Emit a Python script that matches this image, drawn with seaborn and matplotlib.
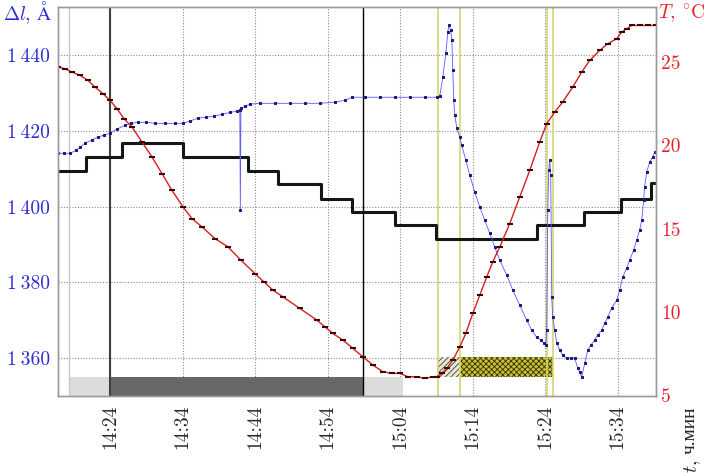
import numpy as np
import pandas as pd
import matplotlib
matplotlib.use("Agg")
import matplotlib.pyplot as plt
import seaborn as sns

# time in minutes after 14:00
blue_t = [16.83, 17.66, 18.49, 19.31, 19.87, 20.56, 21.52, 22.35, 23.17, 24.0, 24.96, 26.07,
          26.89, 27.86, 28.96, 30.2, 31.58, 32.96, 34.06, 35.02, 36.13, 37.23, 38.33, 39.43,
          40.54, 41.5, 41.9, 41.97, 42.05, 42.6, 43.3, 44.67, 46.74, 48.8, 50.87, 52.94, 55.0,
          56.38, 57.35, 59.14, 61.21, 63.27, 65.34, 67.41, 69.06, 69.47, 69.89, 70.3, 70.58,
          70.71, 70.99, 71.13, 71.27, 71.4, 71.54, 71.82, 72.23, 72.5, 73.06, 73.61, 74.3,
          74.99, 75.67, 76.36, 77.05, 77.74, 78.71, 79.53, 80.5, 81.46, 82.15, 82.84, 83.39,
          83.8, 84.08, 84.22, 84.36, 84.49, 84.63, 84.77, 84.91, 85.04, 85.32, 85.6, 86.01,
          86.42, 86.97, 87.53, 88.08, 88.49, 88.77, 89.04, 89.46, 89.87, 90.28, 90.83, 91.25,
          91.8, 92.21, 92.62, 93.17, 93.86, 94.28, 94.69, 95.24, 95.65, 96.2, 96.62, 97.03,
          97.31, 97.58, 97.72, 98.0, 98.41, 98.82, 99.1]
blue_dl = [1414.1, 1414.1, 1414.1, 1414.9, 1415.7, 1416.8, 1417.6, 1418.4, 1418.9, 1419.4,
           1420.5, 1421.5, 1422.0, 1422.3, 1422.3, 1422.0, 1422.0, 1422.0, 1422.0, 1422.6,
           1423.4, 1423.6, 1423.9, 1424.4, 1424.9, 1425.2, 1425.5, 1399.1, 1426.0, 1426.5,
           1427.1, 1427.3, 1427.3, 1427.3, 1427.3, 1427.3, 1427.6, 1428.1, 1428.9, 1428.9,
           1428.9, 1428.9, 1428.9, 1428.9, 1428.9, 1429.2, 1434.2, 1440.5, 1446.1, 1447.9,
           1446.6, 1444.0, 1436.0, 1428.1, 1424.2, 1420.7, 1418.4, 1416.2, 1412.3, 1408.3,
           1403.8, 1399.9, 1396.4, 1393.0, 1389.3, 1385.9, 1381.9, 1378.0, 1374.0, 1370.0,
           1367.4, 1365.5, 1364.8, 1364.0, 1363.4, 1367.4, 1399.1, 1409.6, 1412.3, 1408.3,
           1376.1, 1370.8, 1367.4, 1364.0, 1362.1, 1360.8, 1360.0, 1360.0, 1360.0, 1357.4,
           1356.3, 1355.0, 1358.7, 1362.1, 1363.4, 1364.8, 1366.1, 1367.4, 1369.2, 1370.8,
           1373.2, 1375.3, 1378.0, 1381.4, 1383.8, 1385.9, 1388.5, 1391.2, 1393.8, 1396.4,
           1401.7, 1405.2, 1409.1, 1411.8, 1413.1, 1414.4]

temp_t = [16.83, 17.8, 18.76, 19.87, 20.97, 21.93, 23.04, 24.0, 24.96, 25.93, 27.03, 28.41,
          29.79, 31.17, 32.54, 34.06, 35.3, 36.68, 38.47, 40.26, 42.05, 43.98, 45.22, 46.46,
          47.84, 50.18, 52.52, 53.63, 54.73, 56.11, 57.49, 58.86, 60.24, 61.62, 62.86, 63.96,
          65.06, 66.3, 67.41, 68.51, 69.06, 69.75, 70.44, 71.27, 72.23, 73.06, 74.02, 74.99,
          75.95, 76.78, 77.74, 79.12, 80.5, 81.88, 83.25, 84.22, 85.32, 86.42, 87.8, 89.04,
          90.14, 91.52, 92.62, 93.86, 94.55, 95.24, 95.93, 97.03, 98.14, 99.24]
temp_c = [24.7, 24.6, 24.4, 24.2, 23.9, 23.5, 23.1, 22.7, 22.2, 21.6, 21.1, 20.2, 19.3, 18.3,
          17.3, 16.3, 15.6, 15.1, 14.4, 13.9, 13.1, 12.3, 11.8, 11.3, 10.9, 10.2, 9.5, 9.1,
          8.7, 8.3, 7.8, 7.3, 6.8, 6.4, 6.3, 6.3, 6.1, 6.1, 6.0, 6.1, 6.1, 6.3, 6.6, 7.1, 7.9,
          8.7, 9.9, 11.0, 12.1, 13.0, 13.9, 15.3, 16.9, 18.5, 20.2, 21.3, 22.0, 22.6, 23.5,
          24.4, 25.1, 25.7, 26.1, 26.4, 26.8, 27.0, 27.2, 27.2, 27.2, 27.2]

step_t = [16.83, 20.69, 25.65, 34.06, 43.02, 47.15, 53.08, 57.35, 63.27, 68.92, 82.84,
          89.32, 94.41, 98.55, 99.24]
step_dl = [1409.4, 1413.1, 1416.8, 1413.1, 1409.4, 1406.0, 1402.0, 1398.5, 1395.1, 1391.4,
           1395.1, 1398.5, 1402.0, 1406.2, 1406.2]

# events (minutes after 14:00)
gray_light = [(18.35, 24.0), (58.86, 64.37)]
gray_dark = [(24.0, 58.86)]
black_marks = [24.0, 58.86]
yellow_marks = [69.2, 72.23, 84.22, 85.04]

x_ticks = [24, 34, 44, 54, 64, 74, 84, 94]
x_labels = ["14:24", "14:34", "14:44", "14:54", "15:04", "15:14", "15:24", "15:34"]
dl_ticks = [1360, 1380, 1400, 1420, 1440]
t_ticks = [5, 10, 15, 20, 25]

sns.set_style("white")
plt.rcParams['font.family'] = ['cmr10', 'DejaVu Serif']
plt.rcParams['mathtext.fontset'] = 'cm'
plt.rcParams['axes.unicode_minus'] = False
plt.rcParams['hatch.linewidth'] = 0.6

BLUE = '#2a2ad6'
RED = '#e8202a'

fig = plt.figure(figsize=(7.09, 4.76), dpi=100)
ax = fig.add_axes([0.0818, 0.168, 0.843, 0.817])
ax2 = ax.twinx()

ax.set_xlim(16.83, 99.24)
ax.set_ylim(1350.0, 1452.7)
ax2.set_ylim(4.94, 28.3)

ax.grid(True, color='#8a8a8a', linestyle=(0, (1, 1.5)), linewidth=0.8)
ax.set_axisbelow(True)

# phase bars along the bottom
for a, b in gray_light:
    ax.axvspan(a, b, 0, 0.049, color='#dcdcdc', lw=0)
for a, b in gray_dark:
    ax.axvspan(a, b, 0, 0.049, color='#686868', lw=0)
ax.axvspan(yellow_marks[0], yellow_marks[1], 0.049, 0.1, facecolor='#e8e8d0',
           edgecolor='#404040', hatch='//////', lw=0)
ax.axvspan(yellow_marks[1], yellow_marks[3], 0.049, 0.1, facecolor='#c8c030',
           edgecolor='#303010', hatch='xxxxxx', lw=0)

ax.axvline(gray_light[0][0], color='#c8c8c8', lw=1)
ax.axvline(black_marks[0], color='#404040', lw=1.5)
ax.axvline(black_marks[1], color='black', lw=1)
for xm in yellow_marks:
    ax.axvline(xm, color='#d6d670', lw=1.2)

steps = pd.DataFrame({'t': step_t, 'dl': step_dl})
sns.lineplot(data=steps, x='t', y='dl', ax=ax, drawstyle='steps-post', color='#101810',
             lw=2.2, estimator=None, sort=False)

blue = pd.DataFrame({'t': blue_t, 'dl': blue_dl})
sns.lineplot(data=blue, x='t', y='dl', ax=ax, color='#5a5aff', lw=0.6, marker='s',
             markersize=2.0, markerfacecolor='#1a1a78', markeredgecolor='#1a1a78',
             estimator=None, sort=False)

temp = pd.DataFrame({'t': temp_t, 'T': temp_c})
sns.lineplot(data=temp, x='t', y='T', ax=ax2, color='#d42020', lw=1.0, marker='_',
             markersize=4, markeredgewidth=1.5, markeredgecolor='#3a0808',
             estimator=None, sort=False)

ax.set_xticks(x_ticks, labels=x_labels, rotation=90, fontsize=14)
ax.set_yticks(dl_ticks, labels=[f"{v // 1000}\u2009{v % 1000:03d}" for v in dl_ticks],
              fontsize=14, color=BLUE)
ax2.set_yticks(t_ticks, labels=[str(v) for v in t_ticks], fontsize=14, color=RED)
ax.tick_params(length=0, pad=6)
ax2.tick_params(length=0, pad=4)
ax.set_xlabel('')
ax.set_ylabel('')
ax2.set_xlabel('')
ax2.set_ylabel('')

for sp in list(ax.spines.values()) + list(ax2.spines.values()):
    sp.set_color('#9a9a9a')
    sp.set_linewidth(1)

fig.text(0.004, 0.958, r"$\Delta l$, $\mathrm{\AA}$", color=BLUE, fontsize=14)
fig.text(0.928, 0.96, r"$T$, $^{\circ}\mathrm{C}$", color=RED, fontsize=14)
fig.text(0.962, 0.006, r"$t$,", rotation=90, fontsize=14, va='bottom', ha='left')
fig.text(0.962, 0.046, "ч.мин", rotation=90, fontsize=14, va='bottom', ha='left',
         family=['Liberation Serif', 'DejaVu Serif'])

fig.savefig("out.png", dpi=100)
